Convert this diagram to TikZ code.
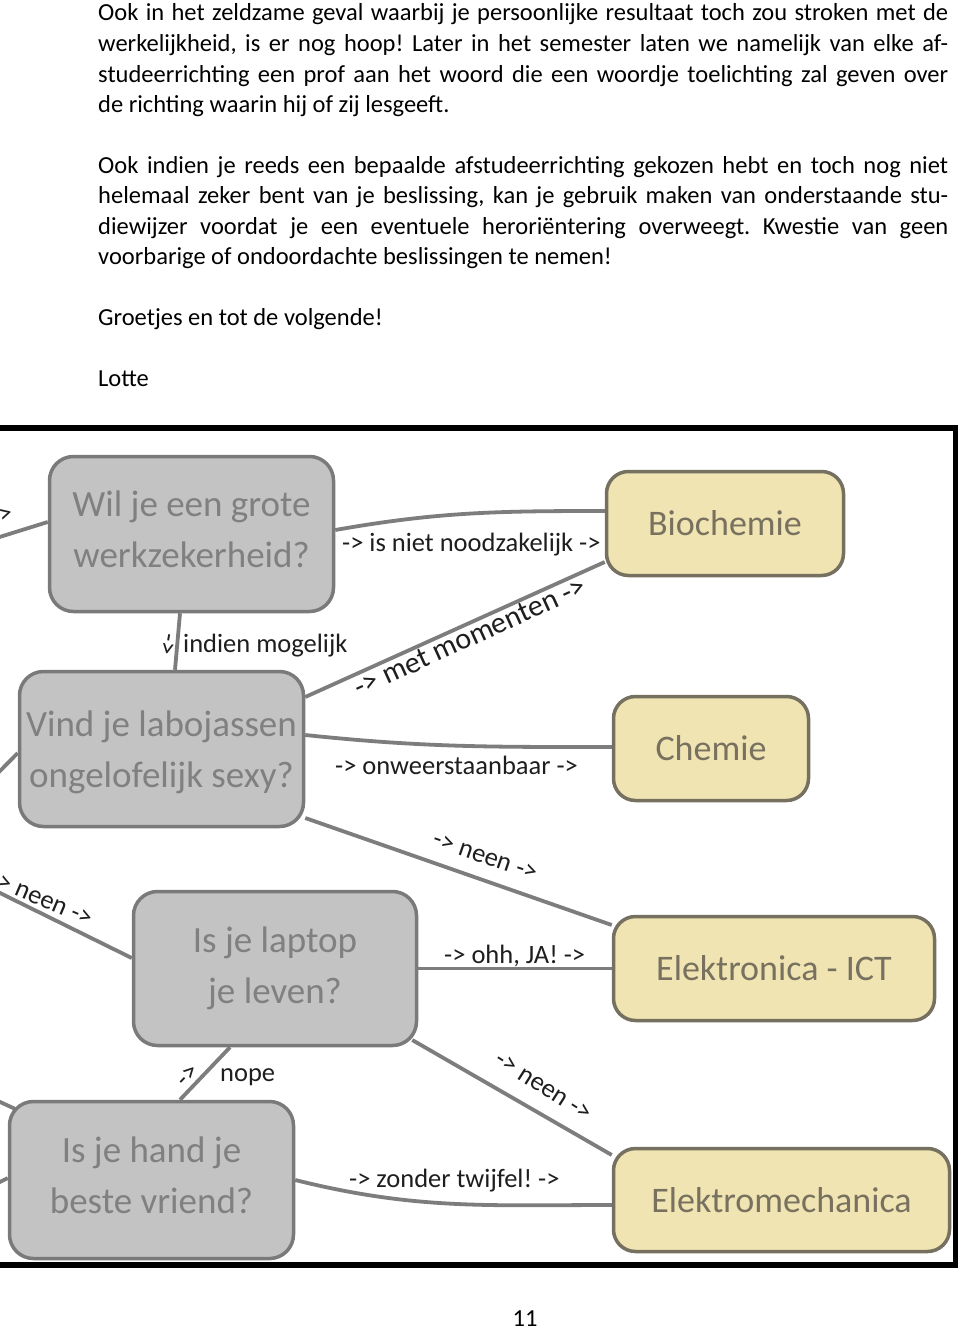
\documentclass[tikz,border=0pt]{standalone}
\usepackage{fontspec}
\setmainfont{Carlito}
\frenchspacing
\pgfdeclarelayer{background}
\pgfsetlayers{background,main}
\definecolor{qfill}{RGB}{195,195,195}
\definecolor{qborder}{RGB}{122,122,122}
\definecolor{qtext}{RGB}{128,128,128}
\definecolor{afill}{RGB}{239,228,178}
\definecolor{aborder}{RGB}{117,112,95}
\definecolor{atext}{RGB}{120,113,95}
\definecolor{lcol}{RGB}{125,125,125}
\definecolor{labcol}{RGB}{30,30,30}
\tikzset{
  body/.style={anchor=base west, inner sep=0pt, font=\fontsize{24.5}{30.5}\selectfont},
  qbox/.style={draw=qborder, fill=qfill, line width=3.5pt, rounded corners=24pt,
    text=qtext, align=center, inner sep=0pt, font=\fontsize{37}{51}\selectfont},
  abox/.style={draw=aborder, fill=afill, line width=3.5pt, rounded corners=22pt,
    text=atext, inner sep=0pt, font=\fontsize{36}{44}\selectfont},
  conn/.style={draw=lcol, line width=3.8pt},
  lab/.style={font=\fontsize{26.5}{30}\selectfont, text=labcol, inner sep=0pt},
}
\begin{document}
\begin{tikzpicture}[x=1pt,y=1pt]
\useasboundingbox (0,0) rectangle (960,-1330);
\begin{pgfonlayer}{background}
  \fill[white] (0,0) rectangle (960,-1330);
\end{pgfonlayer}

% body text
\node[body] (t1) at (98,-21) {\makebox[850pt][s]{Ook in het zeldzame geval waarbij je persoonlijke resultaat toch zou stroken met de}};
\node[body] (t2) at (98,-51.5) {\makebox[850pt][s]{werkelijkheid, is er nog hoop! Later in het semester laten we namelijk van elke af-}};
\node[body] (t3) at (98,-82) {\makebox[850pt][s]{studeerrichting een prof aan het woord die een woordje toelichting zal geven over}};
\node[body] (t4) at (98,-112.5) {de richting waarin hij of zij lesgeeft.};
\node[body] (t5) at (98,-173) {\makebox[850pt][s]{Ook indien je reeds een bepaalde afstudeerrichting gekozen hebt en toch nog niet}};
\node[body] (t6) at (98,-203.5) {\makebox[850pt][s]{helemaal zeker bent van je beslissing, kan je gebruik maken van onderstaande stu-}};
\node[body] (t7) at (98,-234) {\makebox[850pt][s]{diewijzer voordat je een eventuele heroriëntering overweegt. Kwestie van geen}};
\node[body] (t8) at (98,-264.5) {voorbarige of ondoordachte beslissingen te nemen!};
\node[body] (t9) at (98,-325.5) {Groetjes en tot de volgende!};
\node[body] (t10) at (98,-386.5) {Lotte};
\node[body, anchor=base] (pnum) at (525,-1326.5) {11};

% question boxes
\node[qbox, minimum width=284pt, minimum height=155pt, text depth=10pt] (wil) at (191.5,-534) {Wil je een grote\\werkzekerheid?};
\node[qbox, minimum width=284pt, minimum height=155pt, text depth=0pt] (vind) at (161.5,-749) {Vind je labojassen\\ongelofelijk sexy?};
\node[qbox, minimum width=283pt, minimum height=154pt] (laptop) at (275,-968.5) {Is je laptop\\je leven?};
\node[qbox, minimum width=284pt, minimum height=157pt, text depth=10pt] (hand) at (151.5,-1180) {Is je hand je\\beste vriend?};

% answer boxes
\node[abox, minimum width=237pt, minimum height=104pt] (bio) at (725,-523.5) {Biochemie};
\node[abox, minimum width=195pt, minimum height=104pt] (chem) at (711,-748.5) {Chemie};
\node[abox, minimum width=321pt, minimum height=104pt] (elek) at (774,-968.5) {Elektronica - ICT};
\node[abox, minimum width=336pt, minimum height=103pt] (emech) at (781.5,-1200) {Elektromechanica};

% connectors
\coordinate (inA) at (-2,-537.5);
\coordinate (inL) at (-2,-773);
\coordinate (inG) at (-2,-892);
\coordinate (inM1) at (-2,-1101);
\coordinate (inM2) at (-2,-1183);
\begin{pgfonlayer}{background}
  \draw[conn] (inA) -- ([yshift=12pt]wil.west);
  \draw[conn] ([yshift=4pt]wil.east) to[out=10,in=180] ([yshift=12.5pt]bio.west);
  \draw[conn] ([xshift=-11.5pt]wil.south) -- ([xshift=13.5pt]vind.north);
  \draw[conn] ([yshift=52pt]vind.east) -- ([yshift=-38.5pt]bio.west);
  \draw[conn] ([yshift=14pt]vind.east) to[out=-6,in=180] ([yshift=1.5pt]chem.west);
  \draw[conn] ([yshift=-69pt]vind.east) -- ([yshift=43.5pt]elek.west);
  \draw[conn] (inL) -- ([yshift=-4pt]vind.west);
  \draw[conn] (inG) -- ([yshift=10.5pt]laptop.west);
  \draw[conn] (laptop.east) -- (elek.west);
  \draw[conn] ([xshift=-6pt,yshift=-71.5pt]laptop.east) -- ([yshift=45pt]emech.west);
  \draw[conn] ([xshift=28.5pt]hand.north) -- ([xshift=-45pt]laptop.south);
  \draw[conn] (hand.east) to[out=-14,in=180] ([yshift=-5pt]emech.west);
  \draw[conn] (inM1) -- ([xshift=7pt,yshift=-9pt]hand.north west);
  \draw[conn] (inM2) -- ([yshift=2pt]hand.west);
\end{pgfonlayer}

% connector labels
\node[lab, anchor=base east, rotate=15] (la) at (14,-520) {->};
\node[lab, anchor=base west] (lb) at (342,-551) {-> is niet noodzakelijk ->};
\node[lab, rotate=-100] (lc1) at (167,-644) {->};
\node[lab, anchor=base west] (lc) at (183,-652) {indien mogelijk};
\node[lab, font=\fontsize{30}{34}\selectfont, rotate=24.5] (ld) at (470,-637) {-> met momenten ->};
\node[lab, anchor=base west] (le) at (335,-774) {-> onweerstaanbaar ->};
\node[lab, rotate=-19] (lf) at (485,-857) {-> neen ->};
\node[lab, rotate=-23] (lg) at (41,-899) {-> neen ->};
\node[lab, anchor=base west] (lh) at (444,-963) {-> ohh, JA! ->};
\node[lab, rotate=-32.5] (li) at (543,-1087) {-> neen ->};
\node[lab, rotate=46] (lj1) at (188,-1076) {->};
\node[lab, anchor=base west] (lj) at (220,-1081) {nope};
\node[lab, anchor=base west] (lk) at (349,-1187) {-> zonder twijfel! ->};

% frame
\draw[black, line width=5.5pt, line join=miter] (-5,-428) -- (955.5,-428) -- (955.5,-1265) -- (-5,-1265);
\end{tikzpicture}
\end{document}
